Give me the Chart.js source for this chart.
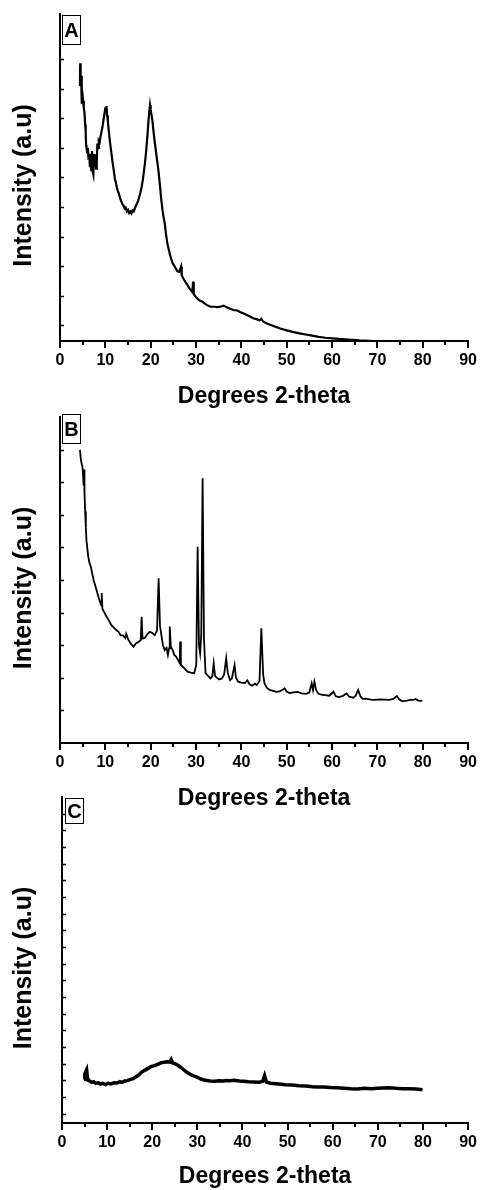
<!DOCTYPE html>
<html>
<head>
<meta charset="utf-8">
<script src="https://cdn.jsdelivr.net/npm/chart.js@4/dist/chart.umd.min.js"></script>
<style>
  body { margin: 0; background: #fff; }
  #wrap { position: relative; width: 487px; height: 1190px; }
  #wrap canvas { position: absolute; left: 0; }
</style>
</head>
<body>
<div id="wrap">
  <canvas id="chartA" width="487" height="410" style="top:0px"></canvas>
  <canvas id="chartB" width="487" height="410" style="top:405px"></canvas>
  <canvas id="chartC" width="487" height="405" style="top:785px"></canvas>
</div>
<script>
// XRD patterns, three samples (A, B, C)

const xTitle = 'Degrees 2-theta';
const yTitle = 'Intensity (a.u)';
const xMajorTicks = [0, 10, 20, 30, 40, 50, 60, 70, 80, 90];
const xMinorTicks = [5, 15, 25, 35, 45, 55, 65, 75, 85];

// Sample A
const angleA = [4.40, 4.45, 4.55, 4.65, 4.75, 4.85, 4.95, 5.10, 5.25, 5.40, 5.55, 5.65, 5.75, 5.85, 6.00, 6.15, 6.30, 6.45, 6.60, 6.75,
  6.90, 7.05, 7.20, 7.35, 7.50, 7.65, 7.80, 7.95, 8.10, 8.25, 8.40, 8.55, 8.75, 8.95, 9.15, 9.35, 9.55, 9.75, 9.95, 10.15,
  10.25, 10.40, 10.55, 10.75, 10.95, 11.15, 11.40, 11.65, 11.90, 12.10, 12.30, 12.55, 12.75, 13.00, 13.25, 13.50, 13.75, 14.00, 14.25, 14.50,
  14.75, 15.00, 15.25, 15.50, 15.75, 16.00, 16.25, 16.50, 16.75, 17.00, 17.25, 17.50, 17.75, 18.00, 18.25, 18.50, 18.75, 19.00, 19.25, 19.50,
  19.70, 19.85, 20.00, 20.20, 20.40, 20.60, 20.85, 21.10, 21.40, 21.70, 22.00, 22.30, 22.60, 22.85, 23.10, 23.40, 23.70, 24.00, 24.40, 24.85,
  25.30, 25.60, 25.90, 26.30, 26.70, 26.85, 27.30, 27.70, 28.10, 28.50, 28.90, 29.20, 29.35, 29.50, 29.90, 30.40, 30.90, 31.40, 32.00, 32.60,
  33.20, 34.00, 34.80, 35.50, 36.10, 36.80, 37.50, 38.25, 39.00, 39.70, 40.40, 41.20, 42.00, 42.60, 43.30, 44.00, 44.40, 44.80, 45.50, 46.50,
  47.50, 48.40, 49.80, 51.30, 52.80, 54.20, 55.60, 57.05, 58.50, 60.00, 61.50, 62.85, 64.50, 66.00, 67.50, 69.00, 80.00];
const intensityA = [8.10, 8.87, 8.20, 8.45, 7.50, 8.00, 7.85, 7.60, 7.35, 7.20, 6.80, 6.60, 6.10, 6.00, 5.85, 6.00, 5.60, 5.80, 5.35, 5.70,
  5.25, 5.90, 5.20, 5.10, 5.80, 5.40, 5.60, 5.30, 5.50, 6.15, 6.00, 6.25, 6.20, 6.40, 6.55, 6.70, 6.90, 7.10, 7.30, 7.25,
  7.42, 7.10, 6.90, 6.60, 6.30, 6.05, 5.75, 5.45, 5.20, 4.95, 4.85, 4.65, 4.55, 4.45, 4.30, 4.20, 4.10, 4.05, 3.95, 3.98,
  3.85, 3.90, 3.80, 3.85, 3.78, 3.88, 3.85, 3.95, 4.05, 4.12, 4.22, 4.35, 4.50, 4.68, 4.90, 5.20, 5.50, 5.90, 6.35, 6.90,
  7.25, 7.46, 7.30, 7.10, 6.90, 6.60, 6.25, 5.95, 5.60, 5.25, 4.80, 4.30, 3.90, 3.65, 3.45, 3.05, 2.75, 2.55, 2.30, 2.09,
  1.98, 1.90, 1.82, 1.80, 1.98, 1.68, 1.55, 1.45, 1.36, 1.25, 1.18, 1.12, 1.47, 1.05, 0.96, 0.88, 0.82, 0.79, 0.72, 0.66,
  0.62, 0.62, 0.61, 0.63, 0.66, 0.60, 0.55, 0.51, 0.50, 0.44, 0.40, 0.34, 0.28, 0.23, 0.20, 0.16, 0.21, 0.12, 0.06, 0.00,
  -0.06, -0.11, -0.17, -0.23, -0.28, -0.32, -0.36, -0.40, -0.43, -0.45, -0.47, -0.48, -0.50, -0.52, -0.53, -0.54, -0.54];
const yTicksA = [0, 1, 2, 3, 4, 5, 6, 7, 8, 9];

// Sample B
const angleB = [4.40, 4.60, 4.80, 4.95, 5.10, 5.20, 5.30, 5.40, 5.55, 5.70, 5.85, 6.00, 6.20, 6.45, 6.80, 7.10, 7.45, 7.85, 8.20, 8.55,
  8.90, 9.10, 9.20, 9.35, 9.80, 10.25, 10.75, 11.30, 11.80, 12.30, 12.90, 13.40, 13.90, 14.40, 14.60, 15.10, 15.60, 16.20, 16.70, 17.30,
  17.80, 18.00, 18.20, 18.70, 19.30, 19.80, 20.30, 20.90, 21.40, 21.75, 22.05, 22.30, 22.70, 23.10, 23.50, 23.80, 24.05, 24.20, 24.45, 24.85,
  25.20, 25.60, 26.00, 26.40, 26.50, 26.65, 27.00, 27.50, 28.10, 28.80, 29.60, 30.05, 30.35, 30.65, 30.90, 31.15, 31.45, 31.75, 32.10, 32.70,
  33.20, 33.60, 33.90, 34.20, 34.60, 35.10, 35.70, 36.20, 36.65, 37.00, 37.50, 37.90, 38.50, 38.80, 39.30, 40.00, 40.80, 41.30, 41.80, 42.40,
  43.00, 43.40, 44.00, 44.40, 44.80, 45.10, 45.60, 46.20, 47.00, 47.70, 48.40, 49.10, 49.50, 50.00, 50.60, 51.50, 52.40, 53.30, 54.20, 55.00,
  55.50, 55.80, 56.10, 56.50, 57.00, 57.80, 58.50, 59.40, 60.30, 60.80, 61.40, 62.30, 63.20, 63.80, 64.70, 65.20, 65.75, 66.30, 66.80, 67.50,
  68.50, 69.40, 70.50, 71.50, 72.60, 73.50, 74.30, 74.80, 75.50, 76.50, 77.20, 78.00, 78.40, 79.00, 79.90];
const intensityB = [8.99, 8.70, 8.55, 8.48, 8.20, 7.90, 8.40, 7.70, 7.10, 6.60, 6.20, 6.00, 5.75, 5.55, 5.41, 5.20, 4.98, 4.79, 4.62, 4.45,
  4.30, 4.22, 4.60, 4.12, 4.00, 3.88, 3.77, 3.62, 3.55, 3.48, 3.41, 3.30, 3.30, 3.22, 3.35, 3.16, 3.05, 2.95, 3.05, 3.10,
  3.15, 3.87, 3.20, 3.22, 3.35, 3.41, 3.38, 3.31, 3.45, 5.05, 3.60, 3.36, 3.00, 2.85, 2.92, 2.70, 2.90, 3.57, 2.95, 2.85,
  2.70, 2.65, 2.55, 2.45, 3.11, 2.40, 2.35, 2.28, 2.19, 2.16, 2.14, 2.40, 6.02, 3.00, 2.75, 3.30, 8.12, 3.20, 2.14, 2.05,
  1.98, 2.05, 2.44, 2.05, 2.00, 1.95, 1.98, 2.10, 2.60, 2.15, 1.93, 1.98, 2.39, 2.00, 1.88, 1.85, 1.84, 1.92, 1.80, 1.76,
  1.82, 1.78, 1.90, 3.52, 2.10, 1.83, 1.70, 1.63, 1.60, 1.57, 1.58, 1.63, 1.68, 1.58, 1.53, 1.55, 1.57, 1.52, 1.51, 1.55,
  1.83, 1.62, 1.88, 1.62, 1.51, 1.48, 1.47, 1.45, 1.57, 1.44, 1.41, 1.44, 1.52, 1.42, 1.39, 1.45, 1.63, 1.42, 1.35, 1.36,
  1.33, 1.32, 1.34, 1.33, 1.32, 1.35, 1.44, 1.34, 1.28, 1.30, 1.32, 1.32, 1.35, 1.30, 1.29];
const yTicksB = [1, 2, 3, 4, 5, 6, 7, 8, 9];

// Sample C
const angleC = [4.90, 5.05, 5.20, 5.45, 5.60, 5.80, 6.20, 6.60, 7.00, 7.50, 8.00, 8.50, 9.00, 9.65, 10.20, 10.80, 11.50, 12.20, 12.80, 13.30,
  13.90, 14.50, 15.20, 15.80, 16.40, 17.00, 17.60, 18.30, 19.00, 19.70, 20.50, 21.20, 21.90, 22.60, 23.40, 23.90, 24.20, 24.50, 25.00, 25.60,
  26.20, 26.90, 27.60, 28.30, 29.00, 29.90, 30.80, 31.80, 32.80, 33.80, 34.80, 35.80, 36.40, 37.20, 38.20, 39.30, 40.30, 41.30, 42.50, 43.70,
  44.50, 44.90, 45.30, 46.20, 47.40, 48.50, 49.50, 51.00, 52.50, 54.00, 55.50, 56.70, 58.00, 59.50, 61.00, 62.50, 64.00, 65.50, 67.00, 68.50,
  70.00, 71.20, 72.50, 74.00, 75.50, 77.00, 78.50, 79.90];
const intensityC = [2.05, 2.35, 2.50, 2.64, 2.25, 2.00, 1.95, 1.88, 1.92, 1.82, 1.86, 1.78, 1.82, 1.74, 1.82, 1.78, 1.86, 1.84, 1.92, 1.88,
  1.96, 1.98, 2.06, 2.10, 2.22, 2.32, 2.48, 2.60, 2.70, 2.82, 2.88, 2.96, 3.05, 3.08, 3.12, 3.10, 3.25, 3.05, 3.00, 2.92,
  2.80, 2.65, 2.50, 2.38, 2.28, 2.20, 2.08, 2.00, 1.96, 1.95, 1.98, 1.96, 1.99, 1.97, 2.00, 1.96, 1.95, 1.92, 1.90, 1.88,
  1.95, 2.28, 1.90, 1.83, 1.80, 1.77, 1.74, 1.72, 1.68, 1.66, 1.62, 1.60, 1.60, 1.57, 1.56, 1.53, 1.50, 1.48, 1.52, 1.50,
  1.53, 1.54, 1.55, 1.52, 1.50, 1.50, 1.48, 1.44];
const yTicksC = [0, 1, 2, 3, 4, 5, 6, 7, 8, 9, 10, 11, 12, 13, 14, 15, 16, 17, 18];

const FONT = '"Liberation Sans", Arial, Helvetica, sans-serif';

// tick marks (x outward, y inward), y title and the panel letter box
const axisMarks = {
    id: 'axisMarks',
    afterDraw(chart, args, opts) {
        const ctx = chart.ctx;
        const area = chart.chartArea;
        const xs = chart.scales.x;
        const ys = chart.scales.y;
        ctx.save();
        ctx.strokeStyle = '#000';
        ctx.lineWidth = 2;
        ctx.beginPath();
        xMajorTicks.forEach(v => {
            const px = Math.round(xs.getPixelForValue(v));
            ctx.moveTo(px, area.bottom);
            ctx.lineTo(px, area.bottom + 7);
        });
        xMinorTicks.forEach(v => {
            const px = Math.round(xs.getPixelForValue(v));
            ctx.moveTo(px, area.bottom);
            ctx.lineTo(px, area.bottom + 4);
        });
        ctx.stroke();

        ctx.lineWidth = 1.5;
        ctx.beginPath();
        opts.yTicks.forEach(v => {
            const py = Math.round(ys.getPixelForValue(v)) + 0.5;
            ctx.moveTo(area.left, py);
            ctx.lineTo(area.left + 4, py);
        });
        ctx.stroke();

        // y axis title, a little below the middle of the axis as in the original
        ctx.fillStyle = '#000';
        ctx.font = 'bold 25px ' + FONT;
        ctx.textAlign = 'center';
        ctx.textBaseline = 'middle';
        ctx.save();
        ctx.translate(24, (area.top + area.bottom) / 2 + 8);
        ctx.rotate(-Math.PI / 2);
        ctx.fillText(yTitle, 0, 0);
        ctx.restore();

        // letter box
        const bx = area.left + opts.boxDx + 0.5;
        const by = area.top + opts.boxDy + 0.5;
        ctx.lineWidth = 1;
        ctx.strokeRect(bx, by, 18, opts.boxH);
        ctx.font = 'bold 20px ' + FONT;
        ctx.fillText(opts.letter, bx + 9, by + opts.boxH / 2 + 1);
        ctx.restore();
    }
};

function makeChart(id, angles, values, cfg) {
    const ctx = document.getElementById(id);
    const points = angles.map((a, i) => ({ x: a, y: values[i] }));
    return new Chart(ctx, {
        type: 'line',
        data: {
            datasets: [{
                data: points,
                borderColor: '#000',
                borderWidth: cfg.lineWidth,
                pointRadius: 0,
                tension: 0,
                fill: false
            }]
        },
        options: {
            responsive: false,
            animation: false,
            layout: {
                padding: { top: cfg.padTop, right: 12, left: 0, bottom: 0 }
            },
            plugins: {
                legend: { display: false },
                tooltip: { enabled: false },
                axisMarks: {
                    yTicks: cfg.yTicks,
                    letter: cfg.letter,
                    boxDx: cfg.boxDx,
                    boxDy: cfg.boxDy,
                    boxH: cfg.boxH
                }
            },
            scales: {
                x: {
                    type: 'linear',
                    min: 0,
                    max: 90,
                    border: { display: true, color: '#000', width: 2 },
                    grid: { display: true, drawOnChartArea: false, drawTicks: false },
                    ticks: {
                        stepSize: 10,
                        autoSkip: false,
                        maxRotation: 0,
                        padding: 10,
                        color: '#000',
                        font: { family: FONT, size: 16, weight: 'bold' }
                    },
                    title: {
                        display: true,
                        text: xTitle,
                        color: '#000',
                        padding: { top: 0, bottom: cfg.titlePad },
                        font: { family: FONT, size: 23, weight: 'bold', lineHeight: 1.2 }
                    },
                    afterFit: (scale) => { scale.height = cfg.xHeight; }
                },
                y: {
                    type: 'linear',
                    min: cfg.yMin,
                    max: cfg.yMax,
                    border: { display: true, color: '#000', width: 2 },
                    grid: { display: false, drawTicks: false },
                    ticks: { display: false, stepSize: 1 },
                    title: { display: false },
                    afterFit: (scale) => { scale.width = cfg.yWidth; }
                }
            }
        },
        plugins: [axisMarks]
    });
}

makeChart('chartA', angleA, intensityA, {
    letter: 'A', yTicks: yTicksA, yMin: -0.54, yMax: 10.54,
    padTop: 14, xHeight: 69, yWidth: 60, titlePad: 0, lineWidth: 2.2,
    boxDx: 2, boxDy: 1, boxH: 29
});

makeChart('chartB', angleB, intensityB, {
    letter: 'B', yTicks: yTicksB, yMin: 0, yMax: 10,
    padTop: 12, xHeight: 72, yWidth: 60, titlePad: 3, lineWidth: 1.8,
    boxDx: 2, boxDy: -3, boxH: 29
});

makeChart('chartC', angleC, intensityC, {
    letter: 'C', yTicks: yTicksC, yMin: -0.56, yMax: 19,
    padTop: 12, xHeight: 67, yWidth: 62, titlePad: 0, lineWidth: 3.5,
    boxDx: 3, boxDy: 1, boxH: 25
});
</script>
</body>
</html>
